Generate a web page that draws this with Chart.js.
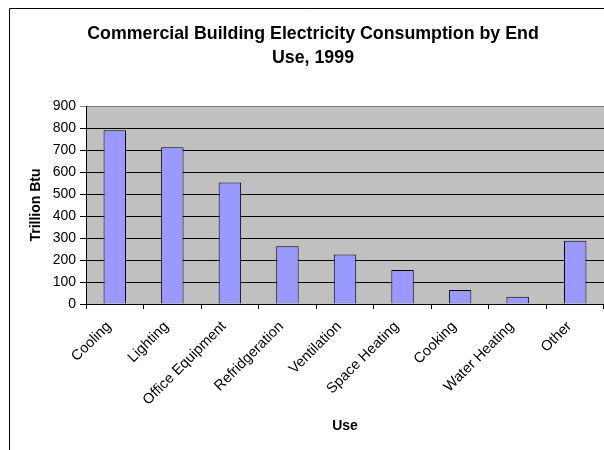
<!DOCTYPE html>
<html>
<head>
<meta charset="utf-8">
<script src="https://cdn.jsdelivr.net/npm/chart.js@4/dist/chart.umd.min.js"></script>
<style>
  html, body { margin: 0; padding: 0; background: #ffffff; }
  #wrap { width: 604px; height: 450px; position: relative; }
</style>
</head>
<body>
<div id="wrap"><canvas id="chart" width="604" height="450"></canvas></div>
<script>
const categories = ['Cooling', 'Lighting', 'Office Equipment', 'Refridgeration', 'Ventilation',
    'Space Heating', 'Cooking', 'Water Heating', 'Other'];
const consumption = [790, 712, 552, 262, 225, 154, 64, 33, 288];
const yTicks = [0, 100, 200, 300, 400, 500, 600, 700, 800, 900];

const titleLines = ['Commercial Building Electricity Consumption by End', 'Use, 1999'];
const xTitle = 'Use';
const yTitle = 'Trillion Btu';

const FONT = '"Liberation Sans", Arial, sans-serif';

// draws frame, plot background and the text labels
const decor = {
    id: 'decor',
    beforeDraw(chart) {
        const ctx = chart.ctx;
        const a = chart.chartArea;
        ctx.save();
        ctx.fillStyle = '#ffffff';
        ctx.fillRect(0, 0, chart.width, chart.height);
        // outer frame (cut off at right and bottom)
        ctx.strokeStyle = '#000000';
        ctx.lineWidth = 1;
        ctx.beginPath();
        ctx.moveTo(9.5, chart.height);
        ctx.lineTo(9.5, 8.5);
        ctx.lineTo(chart.width, 8.5);
        ctx.stroke();
        // plot area
        ctx.fillStyle = '#c0c0c0';
        ctx.fillRect(a.left, a.top, a.right - a.left, a.bottom - a.top);
        ctx.restore();
    },
    afterDraw(chart) {
        const ctx = chart.ctx;
        const a = chart.chartArea;
        ctx.save();
        ctx.fillStyle = '#000000';
        ctx.textAlign = 'center';
        ctx.textBaseline = 'middle';
        ctx.font = 'bold 17.8px ' + FONT;
        ctx.fillText(titleLines[0], 313, 34);
        ctx.fillText(titleLines[1], 313, 58);
        ctx.font = 'bold 14px ' + FONT;
        ctx.fillText(xTitle, 345, 426);
        ctx.translate(36, (a.top + a.bottom) / 2);
        ctx.rotate(-Math.PI / 2);
        ctx.fillText(yTitle, 0, 0);
        ctx.restore();
        // axis lines on top
        ctx.save();
        ctx.strokeStyle = '#000000';
        ctx.lineWidth = 1;
        ctx.beginPath();
        ctx.moveTo(a.left + 0.5, a.top);
        ctx.lineTo(a.left + 0.5, a.bottom + 0.5);
        ctx.lineTo(a.right, a.bottom + 0.5);
        ctx.stroke();
        ctx.restore();
    }
};

new Chart(document.getElementById('chart'), {
    type: 'bar',
    data: {
        labels: categories,
        datasets: [{
            label: 'Trillion Btu',
            data: consumption,
            backgroundColor: '#9999ff',
            borderColor: '#000000',
            borderWidth: 1,
            categoryPercentage: 1.0,
            barPercentage: 0.39
        }]
    },
    options: {
        responsive: false,
        animation: false,
        layout: { padding: { left: 0, top: 106, right: 0, bottom: 0 } },
        plugins: {
            legend: { display: false },
            title: { display: false },
            tooltip: { enabled: false }
        },
        scales: {
            x: {
                afterFit(scale) { scale.height = 146; },
                grid: {
                    offset: true,
                    drawOnChartArea: false,
                    drawTicks: true,
                    tickLength: 5,
                    color: '#000000'
                },
                border: { display: false },
                ticks: {
                    color: '#000000',
                    font: { family: FONT, size: 14.5 },
                    maxRotation: 45,
                    minRotation: 45,
                    autoSkip: false,
                    padding: 9,
                    labelOffset: -6
                }
            },
            y: {
                min: 0,
                max: 900,
                afterFit(scale) { scale.width = 86; },
                afterBuildTicks(scale) { scale.ticks = yTicks.map(v => ({ value: v })); },
                grid: {
                    color: ctx => ctx.tick && ctx.tick.value === 900 ? '#808080' : '#000000',
                    tickLength: 6,
                    drawTicks: true
                },
                border: { display: false },
                ticks: {
                    color: '#000000',
                    font: { family: FONT, size: 14 },
                    padding: 4
                }
            }
        }
    },
    plugins: [decor]
});
</script>
</body>
</html>
